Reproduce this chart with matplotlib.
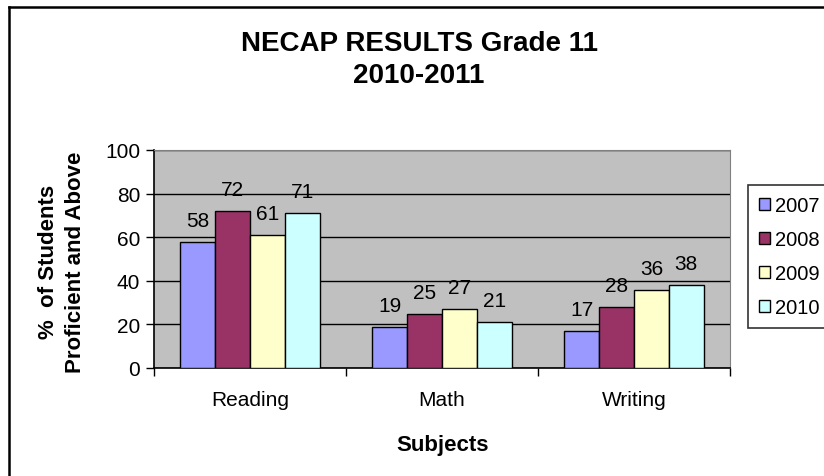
import matplotlib

matplotlib.use("Agg")
import matplotlib.pyplot as plt
import numpy as np
from matplotlib.lines import Line2D
from matplotlib.patches import Patch

plt.rcParams["font.family"] = ["Liberation Sans", "DejaVu Sans"]

subjects = ["Reading", "Math", "Writing"]
years = ["2007", "2008", "2009", "2010"]
scores = {
    "2007": [58, 19, 17],
    "2008": [72, 25, 28],
    "2009": [61, 27, 36],
    "2010": [71, 21, 38],
}
colors = ["#9999FF", "#993366", "#FFFFCC", "#CCFFFF"]

W, H = 824, 477
fig = plt.figure(figsize=(W / 100, H / 100), dpi=100)

# outer chart border (cut off on the right and bottom)
fig.add_artist(Line2D([8.5 / W, 8.5 / W], [0, 1 - 8 / H], color="black", lw=1.8))
fig.add_artist(Line2D([8.5 / W, 1], [1 - 8 / H, 1 - 8 / H], color="black", lw=1.8))

ax = fig.add_axes([154 / W, 1 - 369 / H, 576 / W, 218 / H])
ax.set_facecolor("#C0C0C0")

x = np.arange(len(subjects))
width = 0.181
for i, year in enumerate(years):
    pos = x + (i - 1.5) * width
    bars = ax.bar(pos, scores[year], width, color=colors[i],
                  edgecolor="black", linewidth=1.0, zorder=3, label=year)
    for b, v in zip(bars, scores[year]):
        ax.annotate(str(v), (b.get_x() + b.get_width() / 2, v),
                    xytext=(0, 11.5), textcoords="offset points",
                    ha="center", va="baseline", fontsize=15)

ax.set_xlim(-0.5, 2.5)
ax.set_ylim(0, 100)
ax.set_yticks([0, 20, 40, 60, 80, 100])
ax.yaxis.grid(True, color="black", linewidth=1.0, zorder=0)
ax.set_axisbelow(True)

ax.set_xticks(x)
ax.set_xticklabels(subjects, fontsize=15)
ax.set_xticks([-0.5, 0.5, 1.5, 2.5], minor=True)
ax.tick_params(axis="x", which="major", length=0, pad=16)
ax.tick_params(axis="x", which="minor", length=6, width=1, direction="out")
ax.tick_params(axis="y", length=6, width=1, direction="out", labelsize=15, pad=4)

for side in ["top", "right"]:
    ax.spines[side].set_color("#808080")
for side in ["left", "bottom"]:
    ax.spines[side].set_color("black")
    ax.spines[side].set_linewidth(1.2)

fig.text(419 / W, 1 - 60 / H, "NECAP RESULTS Grade 11\n2010-2011",
         ha="center", va="center", fontsize=20, fontweight="bold", linespacing=1.3)
fig.text(62 / W, 1 - 262 / H, "%  of Students\nProficient and Above",
         ha="center", va="center", rotation=90, fontsize=16, fontweight="bold",
         linespacing=1.35)
fig.text(443 / W, 1 - 445 / H, "Subjects", ha="center", va="center",
         fontsize=16, fontweight="bold")

handles = [Patch(facecolor=c, edgecolor="black", linewidth=1.0) for c in colors]
leg = fig.legend(handles, years, loc="upper left",
                 bbox_to_anchor=(748 / W, 1 - 186 / H), fontsize=14.5,
                 frameon=True, fancybox=False, edgecolor="black",
                 handlelength=0.55, handleheight=0.55, handletextpad=0.25,
                 labelspacing=0.75, borderpad=0.55, borderaxespad=0)
leg.get_frame().set_linewidth(1.2)

fig.savefig("out.png", dpi=100)
